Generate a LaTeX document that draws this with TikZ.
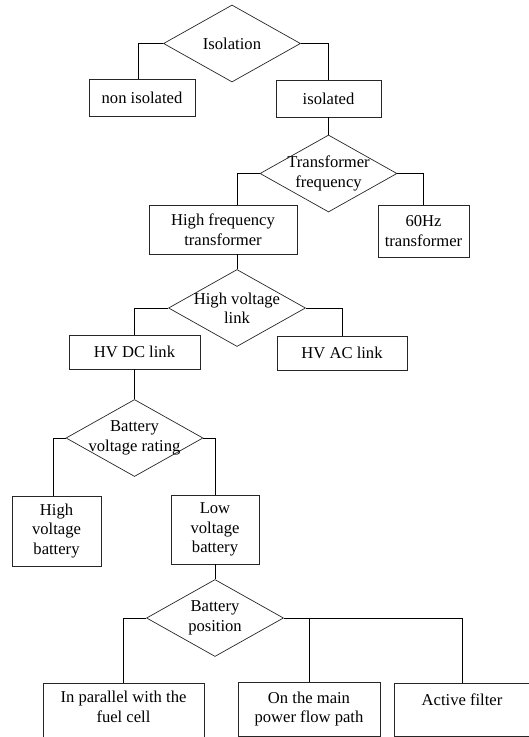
\documentclass[tikz,border=0pt]{standalone}
\usepackage{fontspec}
\setmainfont{Liberation Serif}
\usetikzlibrary{shapes.geometric}

\tikzset{
  box/.style={draw=black!85, rectangle, align=center, inner sep=2pt},
  decision/.style={draw=black!85, diamond, inner sep=0pt, minimum width=137pt, minimum height=77pt},
}

\begin{document}
\begin{tikzpicture}[x=1pt, y=-1pt, font=\fontsize{16.6}{19.5}\selectfont, line width=0.7pt]
\useasboundingbox (0,0) rectangle (529,737);
% isolation
\node[decision, label={center:Isolation}] (iso) at (232, 43.5) {};
\node[box, minimum width=106pt, minimum height=37pt] (noniso) at (142, 97.5) {non isolated};
\node[box, minimum width=105pt, minimum height=37pt] (isolated) at (328.5, 98.5) {isolated};
% transformer
\node[decision, label={[align=center]center:Transformer\\frequency}] (tf) at (328.5, 173.5) {};
\node[box, minimum width=148pt, minimum height=49pt] (hft) at (223, 229.5) {High frequency\\transformer};
\node[box, minimum width=91pt, minimum height=52pt] (sixty) at (423.5, 231) {60Hz\\transformer};
% link
\node[decision, label={[align=center]center:High voltage\\link}] (hvl) at (237, 308) {};
\node[box, minimum width=131pt, minimum height=34pt] (hvdc) at (134.5, 352) {HV DC link};
\node[box, minimum width=130pt, minimum height=34pt] (hvac) at (342, 353) {HV AC link};
% battery voltage
\node[decision, label={[align=center]center:Battery\\voltage rating}] (bvr) at (134.5, 438) {};
\node[box, minimum width=89pt, minimum height=70pt] (hvb) at (56.5, 531) {High\\voltage\\battery};
\node[box, minimum width=88pt, minimum height=69pt] (lvb) at (215, 529.5) {Low\\voltage\\battery};
% battery position
\node[decision, label={[align=center]center:Battery\\position}] (bp) at (215, 618) {};
\node[box, minimum width=161pt, minimum height=66pt, anchor=north] (par) at (123.5, 683) {In parallel with the\\fuel cell\\\mbox{}};
\node[box, minimum width=142pt, minimum height=54pt] (main) at (309, 709) {On the main\\power flow path};
\node[box, minimum width=136pt, minimum height=53pt] (filter) at (462, 709.5) {Active filter\\\mbox{}};

\draw (iso.west) -| ([xshift=-4pt]noniso.north);
\draw (iso.east) -| (isolated.north);
\draw (isolated) -- (tf);
\draw (tf.west) -| ([xshift=14pt]hft.north);
\draw (tf.east) -| (sixty.north);
\draw (hft.south -| hvl.north) -- (hvl.north);
\draw (hvl.west) -| (hvdc.north);
\draw (hvl.east) -| (hvac.north);
\draw (hvdc) -- (bvr);
\draw (bvr.west) -| ([xshift=-3.5pt]hvb.north);
\draw (bvr.east) -| (lvb.north);
\draw (lvb) -- (bp);
\draw (bp.west) -| (par.north);
\draw (bp.east) -| (main.north);
\draw (bp.east) -| (filter.north);
\end{tikzpicture}
\end{document}
